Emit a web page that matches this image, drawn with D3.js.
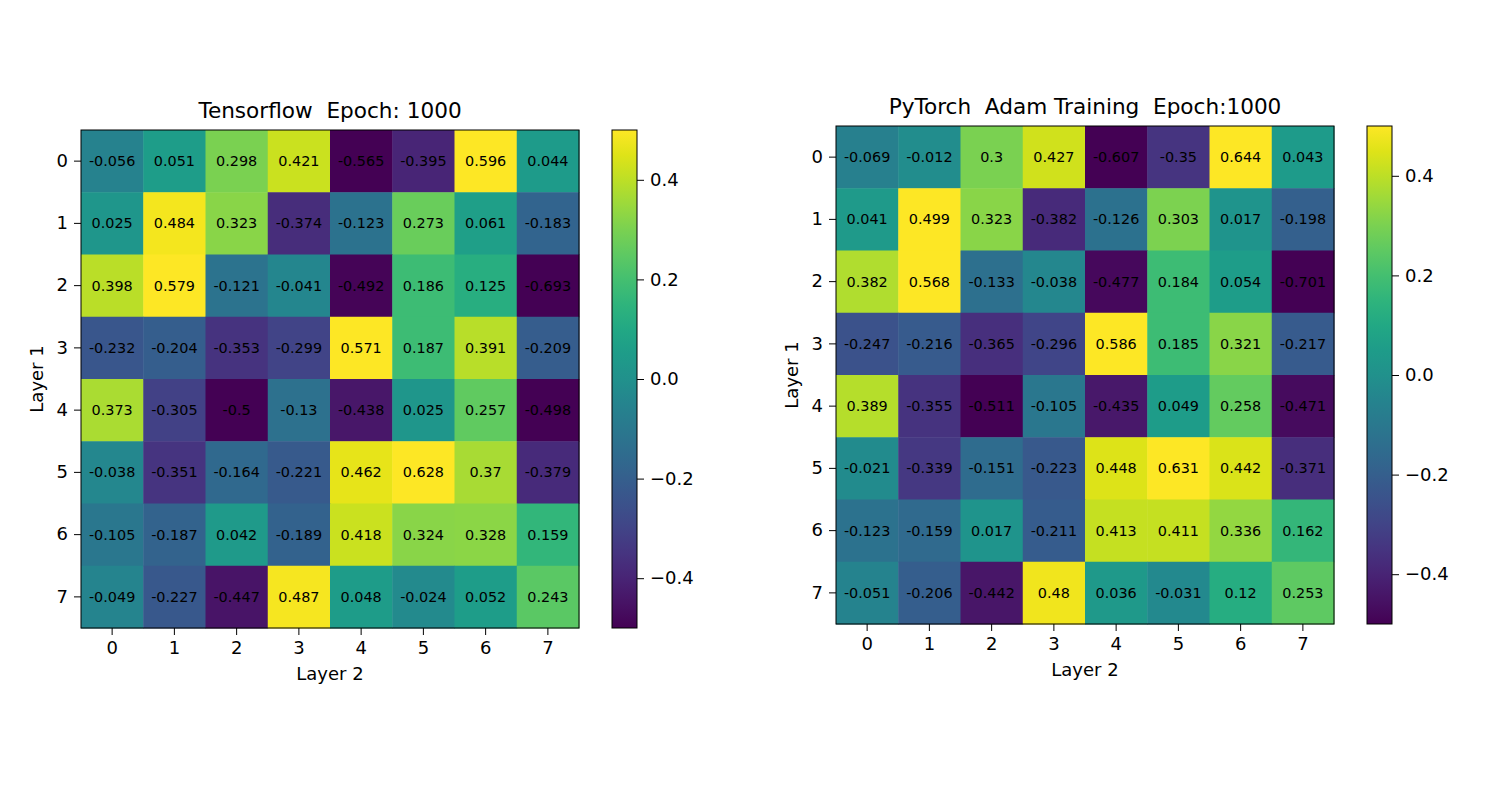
<!DOCTYPE html>
<html><head><meta charset="utf-8">
<script src="https://cdn.jsdelivr.net/npm/d3@7"></script>
<style>body{margin:0;background:#fff;} svg{display:block;font-family:"DejaVu Sans",sans-serif;} text{white-space:pre;}</style>
</head><body>
<svg id="chart" width="1491" height="789"></svg>
<script>
const rowLabels = ["0","1","2","3","4","5","6","7"];
const colLabels = ["0","1","2","3","4","5","6","7"];
const cbarTicks = [0.4, 0.2, 0.0, -0.2, -0.4];

const tfValues = [
  [-0.056, 0.051, 0.298, 0.421, -0.565, -0.395, 0.596, 0.044],
  [0.025, 0.484, 0.323, -0.374, -0.123, 0.273, 0.061, -0.183],
  [0.398, 0.579, -0.121, -0.041, -0.492, 0.186, 0.125, -0.693],
  [-0.232, -0.204, -0.353, -0.299, 0.571, 0.187, 0.391, -0.209],
  [0.373, -0.305, -0.5, -0.13, -0.438, 0.025, 0.257, -0.498],
  [-0.038, -0.351, -0.164, -0.221, 0.462, 0.628, 0.37, -0.379],
  [-0.105, -0.187, 0.042, -0.189, 0.418, 0.324, 0.328, 0.159],
  [-0.049, -0.227, -0.447, 0.487, 0.048, -0.024, 0.052, 0.243]
];
const ptValues = [
  [-0.069, -0.012, 0.3, 0.427, -0.607, -0.35, 0.644, 0.043],
  [0.041, 0.499, 0.323, -0.382, -0.126, 0.303, 0.017, -0.198],
  [0.382, 0.568, -0.133, -0.038, -0.477, 0.184, 0.054, -0.701],
  [-0.247, -0.216, -0.365, -0.296, 0.586, 0.185, 0.321, -0.217],
  [0.389, -0.355, -0.511, -0.105, -0.435, 0.049, 0.258, -0.471],
  [-0.021, -0.339, -0.151, -0.223, 0.448, 0.631, 0.442, -0.371],
  [-0.123, -0.159, 0.017, -0.211, 0.413, 0.411, 0.336, 0.162],
  [-0.051, -0.206, -0.442, 0.48, 0.036, -0.031, 0.12, 0.253]
];

const svg = d3.select("#chart");
const color = d3.scaleSequential(d3.interpolateViridis).domain([-0.5, 0.5]).clamp(true);
const fmt = v => String(v);
const minusFmt = v => d3.format(".1f")(v).replace("-", "\u2212");

function panel(opts) {
  const {x0, y0, size, values, title, cbX, cbW, id} = opts;
  const g = svg.append("g");
  const xs = d3.scaleBand().domain(colLabels).range([x0, x0 + size]);
  const ys = d3.scaleBand().domain(rowLabels).range([y0, y0 + size]);
  const cells = [];
  values.forEach((row, i) => row.forEach((v, j) => cells.push({r: rowLabels[i], c: colLabels[j], v})));
  g.selectAll("rect.cell").data(cells).join("rect")
    .attr("x", d => xs(d.c)).attr("y", d => ys(d.r))
    .attr("width", xs.bandwidth() + 0.5).attr("height", ys.bandwidth() + 0.5)
    .attr("fill", d => color(d.v));
  g.selectAll("text.val").data(cells).join("text")
    .attr("x", d => xs(d.c) + xs.bandwidth() / 2).attr("y", d => ys(d.r) + ys.bandwidth() / 2)
    .attr("text-anchor", "middle").attr("dominant-baseline", "central")
    .attr("font-size", 14.4).attr("fill", "#000").text(d => fmt(d.v));
  g.append("rect").attr("x", x0).attr("y", y0).attr("width", size).attr("height", size)
    .attr("fill", "none").attr("stroke", "#000").attr("stroke-width", 1);

  const xAxis = d3.axisBottom(xs).tickSize(7).tickPadding(6);
  const gx = g.append("g").attr("transform", `translate(0,${y0 + size})`).call(xAxis);
  const yAxis = d3.axisLeft(ys).tickSize(7).tickPadding(6);
  const gy = g.append("g").attr("transform", `translate(${x0},0)`).call(yAxis);
  [gx, gy].forEach(a => {
    a.select(".domain").remove();
    a.selectAll("text").attr("font-size", 18).attr("fill", "#000").attr("font-family", "DejaVu Sans");
    a.selectAll("line").attr("stroke", "#000");
  });
  g.append("text").attr("x", x0 + size / 2).attr("y", y0 + size + 52)
    .attr("text-anchor", "middle").attr("font-size", 18).text("Layer 2");
  g.append("text").attr("transform", `translate(${x0 - 38},${y0 + size / 2}) rotate(-90)`)
    .attr("text-anchor", "middle").attr("font-size", 18).text("Layer 1");
  g.append("text").attr("x", x0 + size / 2).attr("y", y0 - 12)
    .attr("text-anchor", "middle").attr("font-size", 21.6).text(title);

  // colorbar
  const grad = svg.append("defs").append("linearGradient").attr("id", id)
    .attr("x1", 0).attr("y1", 1).attr("x2", 0).attr("y2", 0);
  d3.range(0, 1.0001, 0.05).forEach(t => grad.append("stop").attr("offset", t).attr("stop-color", d3.interpolateViridis(t)));
  g.append("rect").attr("x", cbX).attr("y", y0).attr("width", cbW).attr("height", size)
    .attr("fill", `url(#${id})`).attr("stroke", "#000").attr("stroke-width", 1);
  const cs = d3.scaleLinear().domain([-0.5, 0.5]).range([y0 + size, y0]);
  const cAxis = d3.axisRight(cs).tickValues(cbarTicks).tickFormat(minusFmt).tickSize(7).tickPadding(6);
  const gc = g.append("g").attr("transform", `translate(${cbX + cbW},0)`).call(cAxis);
  gc.select(".domain").remove();
  gc.selectAll("text").attr("font-size", 18).attr("fill", "#000").attr("font-family", "DejaVu Sans");
  gc.selectAll("line").attr("stroke", "#000");
}

panel({x0: 81, y0: 130, size: 498, values: tfValues, title: "Tensorflow  Epoch: 1000", cbX: 612, cbW: 25, id: "g1"});
panel({x0: 836, y0: 126, size: 498, values: ptValues, title: "PyTorch  Adam Training  Epoch:1000", cbX: 1367, cbW: 25, id: "g2"});
</script>
</body></html>
